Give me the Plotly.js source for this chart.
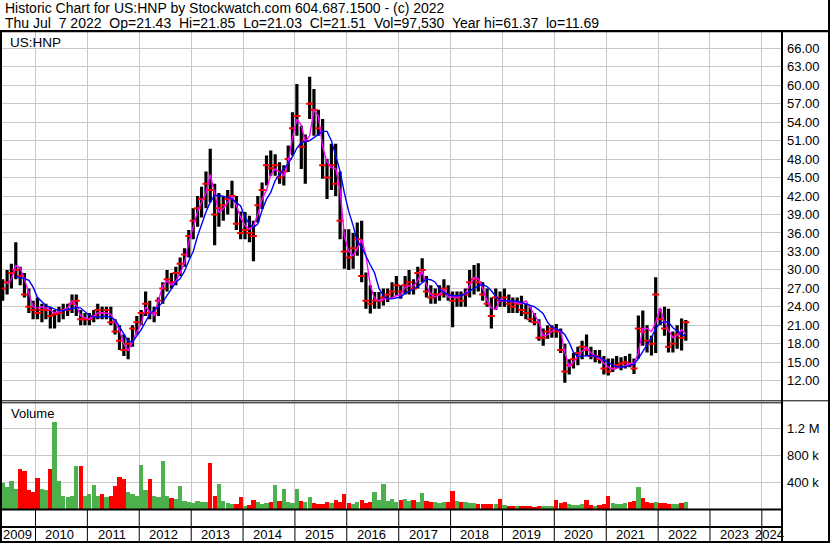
<!DOCTYPE html>
<html>
<head>
<meta charset="utf-8">
<script src="https://cdn.plot.ly/plotly-3.0.1.min.js"></script>
<style>
html,body{margin:0;padding:0;background:#fff;}
#chart{width:830px;height:543px;}
</style>
</head>
<body>
<div id="chart"></div>
<script>
// ---------------- DATA (monthly, May 2009 .. Jul 2022) ----------------
const startYear = 2009;
const startMonth = 5;

const high = [
  28.5, 30, 31, 34.5, 30.5, 29.5, 27, 25,
  25.5, 24.5, 24.5, 24, 23.5, 24, 24.5, 24.5, 26, 26, 23.5, 23,
  23, 23.5, 24.5, 24, 24, 24, 22, 21, 19.5, 19, 21, 22.5,
  23.5, 26.5, 25, 24, 25.5, 28, 30, 29.5, 30.5, 32, 33.5, 36.5,
  40, 42, 43.5, 46, 49.7, 44, 42.5, 42, 43, 44.5, 42, 39.5,
  39.4, 38.8, 38, 42, 44.2, 48.6, 49.4, 48.8, 47.5, 47, 50.2, 55.6,
  60.2, 53.4, 52, 61.37, 59.4, 56, 54.5, 48, 50.5, 50.5, 46, 36.6,
  36.6, 36, 37.7, 38, 29.6, 27.5, 26.4, 26.4, 27, 27, 28, 29,
  27.5, 29, 30, 28.5, 30.5, 31.9, 29, 27.5, 27, 27.5, 28.5, 27.5,
  26.5, 26.5, 26.5, 27, 30, 30.8, 31.1, 28, 27, 25.5, 27, 26.5,
  27, 26, 25.5, 25.5, 25.8, 24.5, 24, 23, 22, 20.5, 21, 21,
  21.2, 20.5, 18, 15.5, 16.5, 17.5, 18.5, 19.5, 17.5, 17, 17, 16,
  15.6, 15.6, 16, 15.8, 16, 16.4, 15.6, 22.6, 23.4, 21, 19.3, 28.8,
  23.7, 24, 23.7, 20, 21, 22.1, 21.85
];

const low = [
  25, 26, 27, 28.5, 27.5, 25.5, 23, 22,
  22, 21.5, 22, 20.5, 20.5, 21.5, 22, 22.5, 23, 22.5, 21, 21,
  21, 21.5, 22, 22, 22, 21, 19.5, 17, 16, 15.5, 17.5, 19.5,
  21, 22.5, 22, 21.5, 22.5, 24.5, 26.5, 27, 27.5, 29, 30.5, 32,
  35, 37, 38.5, 40, 41, 34, 37, 38, 39, 40, 36.5, 35,
  35, 34.5, 31.4, 37.7, 39.9, 43.7, 45.3, 45.3, 44, 43.7, 45.9, 48.6,
  51.8, 46.4, 44, 54.5, 51.8, 51.8, 44.8, 41.5, 43, 42, 35, 30.2,
  30, 30.2, 32.3, 28, 23.7, 22.9, 23.7, 23.7, 24.2, 24.8, 25.3, 25.8,
  25.3, 26, 26, 26, 27, 28, 25.5, 24.5, 24.5, 25, 25.5, 25,
  20.7, 24, 24, 24, 25.5, 26, 26.5, 25, 24, 20.5, 23.5, 24,
  24, 23, 23, 23, 22.5, 22, 21.5, 21, 18.5, 17.7, 18.8, 19,
  19, 16.5, 11.69, 13, 14, 14.5, 15.5, 16, 15.5, 15, 14.8, 13,
  12.85, 13.4, 14, 13.7, 14, 14.2, 13.1, 15.6, 17.7, 16.6, 16.1, 16.5,
  21, 19.3, 16.6, 16.6, 17.2, 16.9, 18.5
];

const close = [
  27, 28, 29.5, 30, 29, 26, 24, 23.5,
  23, 23.5, 23.5, 22.5, 22.8, 23, 23.5, 23.5, 24.5, 25, 22, 22,
  22, 22.5, 23.5, 23, 23.5, 21.5, 20, 18.5, 17, 18, 20.5, 21.5,
  23, 24.5, 23, 23, 25, 27, 28.5, 28, 29.5, 31, 32.5, 35.5,
  38, 40, 41.5, 44, 43, 39, 40, 40.5, 41.5, 42, 37.5, 36,
  36.5, 36, 35.5, 40.5, 43, 47, 46.5, 47, 45, 46, 48, 53,
  55, 50, 51, 57, 56, 53, 47, 45, 47, 44, 38, 33,
  32, 33.5, 35, 29, 25, 24.5, 25, 25, 25.5, 26, 26.5, 27.5,
  26.5, 27.5, 28, 27, 29.5, 30, 26.5, 25.5, 26, 26, 27, 26,
  25, 25.5, 25, 26, 28, 28.5, 28, 26, 24.5, 22.5, 25.5, 25,
  25.5, 24.5, 24, 24.5, 23.5, 23, 22, 21.5, 19, 19, 20, 20.5,
  20, 17, 13.5, 14.5, 15.5, 16.5, 17.5, 17, 16, 16, 15.5, 14,
  13.5, 14, 14.5, 14.8, 15, 14.5, 14, 20.5, 20, 18.5, 18, 26,
  22, 20.5, 17.5, 18, 19.5, 19, 21.51
];

// short moving average (magenta)
const maShort = [
  null, 27.7, 28.5, 30.7, 30.3, 28.5, 26, 24,
  23.8, 24, 23.8, 23.5, 23, 23.2, 23.5, 23.8, 25, 24.2, 22.5, 22.2,
  22, 22.5, 23, 23, 23, 22.8, 21.5, 20.2, 18, 16.9, 18.3, 20,
  21.2, 24, 23.2, 22.6, 25, 27.5, 28.2, 27.5, 28.2, 29.5, 31.2, 34.5,
  37, 39.5, 41, 42.5, 45.5, 42.6, 39.3, 40, 41, 42, 40.5, 38.5,
  37.2, 36.6, 37.2, 39, 41.5, 43, 45.5, 46.4, 45.9, 45.3, 47.5, 51.5,
  54.5, 53.5, 50.8, 51.8, 56, 55, 50, 47.5, 46.6, 46.5, 43, 35.5,
  33, 32.3, 33.5, 35, 32.3, 27.5, 25.3, 25, 25.2, 25.3, 25.5, 25.8,
  26, 27.2, 27.4, 27.4, 28.3, 29.8, 27.5, 26, 25.6, 26, 26.8, 25.6,
  25.6, 25.6, 25.8, 26.2, 27.5, 28.8, 28.6, 27, 25, 23.8, 23.6, 25.2,
  25, 25, 24.8, 24.7, 24.5, 25, 23.8, 22.8, 21.5, 19.3, 19.5, 20,
  20.4, 20, 16.6, 14.2, 15, 16, 16.8, 17.4, 16.5, 16, 15.6, 14.8,
  14.2, 13.9, 14, 14.2, 14.5, 14.8, 14.8, 16.5, 20.5, 20.5, 20, 21.5,
  23.8, 21.5, 20.2, 19, 19.3, 20.3, 19.6
];

// long moving average (blue)
const maLong = [
  null, null, null, 28.9, 28.8, 28.6, 28.3, 27.2,
  25.5, 24.8, 24.2, 23.9, 23.6, 23.4, 23.4, 23.6, 23.8, 23.9, 23.8, 23.2,
  22.6, 22.4, 22.3, 22.4, 22.5, 22.3, 21.9, 20.8, 19.6, 18.4, 18.3, 19.2,
  20.3, 21.6, 22.8, 23.5, 24, 24.8, 25.8, 27, 28, 28.6, 29.8, 31.5,
  33, 35.5, 37.5, 39.4, 41, 42.1, 42.1, 42, 41.8, 41.5, 41, 40.4,
  38.5, 37.5, 36.9, 37.5, 39.7, 41.5, 42.6, 44.5, 45.5, 46.4, 47.3, 48.4,
  49.8, 50.7, 50.9, 51, 51.5, 52, 52.5, 52.5, 51, 48.6, 46, 42.5,
  39.5, 37.2, 34.6, 33.7, 32.2, 30.8, 29.5, 27, 25.8, 25.3, 25.3, 25.5,
  25.6, 26.2, 26.5, 26.9, 27.3, 27.9, 28.5, 28.4, 28, 26.9, 26.3, 26,
  25.8, 25.8, 25.8, 26.1, 26.6, 27, 27.4, 27.6, 27.3, 26.6, 25.7, 25,
  25, 25, 25, 24.9, 24.7, 24.5, 24.2, 24, 23.5, 22.9, 21.5, 20.7,
  20.4, 20.1, 19.5, 18.2, 16.6, 15.9, 16, 16.1, 16.1, 16, 15.8, 15.4,
  15, 14.5, 14.3, 14.2, 14.3, 14.5, 14.7, 15.6, 16.8, 18, 19, 20.5,
  21.3, 21.6, 21.5, 20.6, 20, 19.5, 19.3
];

// volume (thousands of shares)
const volumeK = [
  380, 330, 420, 300, 600, 560, 280, 250,
  460, 300, 280, 600, 1290, 420, 200, 180, 200, 640, 640, 200,
  220, 360, 200, 230, 180, 200, 340, 470, 450, 260, 230, 200,
  650, 280, 440, 200, 180, 716, 200, 160, 150, 345, 120, 110,
  90, 120, 100, 110, 690, 200, 375, 120, 90, 80, 70, 180,
  50, 60, 140, 100, 80, 90, 110, 360, 120, 290, 100, 90,
  300, 120, 100, 180, 90, 70, 80, 100, 90, 130, 110, 230,
  90, 80, 110, 140, 90, 110, 250, 130, 365, 120, 150, 110,
  140, 150, 120, 130, 110, 240, 120, 110, 100, 90, 110, 100,
  270, 120, 110, 100, 90, 90, 80, 70, 80, 70, 80, 150,
  60, 50, 50, 40, 45, 40, 40, 35, 40, 40, 50, 45,
  140, 90, 100, 80, 60, 60, 70, 130, 60, 50, 60, 70,
  190, 90, 80, 70, 90, 100, 120, 325, 160, 110, 90, 100,
  90, 90, 80, 80, 70, 90, 100
];

const priceTicks = [12, 15, 18, 21, 24, 27, 30, 33, 36, 39, 42, 45, 48, 51, 54, 57, 60, 63, 66];
const volTicks = [400, 800, 1200];
const volTickText = ['400 k', '800 k', '1.2 M'];
const yearLabels = [2009, 2010, 2011, 2012, 2013, 2014, 2015, 2016, 2017, 2018, 2019, 2020, 2021, 2022, 2023, 2024];

const header1 = 'Historic Chart for US:HNP by Stockwatch.com 604.687.1500 - (c) 2022';
const header2 = 'Thu Jul\u00a0 7 2022\u00a0 Op=21.43\u00a0 Hi=21.85\u00a0 Lo=21.03\u00a0 Cl=21.51\u00a0 Vol=97,530\u00a0 Year hi=61.37\u00a0 lo=11.69';
const symbolLabel = 'US:HNP';
const volumeLabel = 'Volume';

// ---------------- BUILD ----------------
const months = high.map((_, i) => {
  const m0 = startMonth - 1 + i;
  const y = startYear + Math.floor(m0 / 12);
  const m = (m0 % 12) + 1;
  return y + '-' + String(m).padStart(2, '0') + '-15';
});

const xRange = ['2009-05-10', '2024-05-15'];

const W = 830, H = 543, ML = 2, MR = 49, MT = 32, MB = 34;
const PW = W - ML - MR, PH = H - MT - MB;
const px = x => (x - ML) / PW;
const py = y => (H - MB - y) / PH;

const FONT = 'Liberation Sans, Arimo, Arial, sans-serif';

// price bars as vertical low-high segments
const barX = [], barY = [];
months.forEach((d, i) => { barX.push(d, d, null); barY.push(low[i], high[i], null); });

const volColors = close.map((c, i) => (i === 0 || c >= close[i - 1]) ? '#4cb04c' : '#ff0000');

const traces = [
  { type: 'scatter', mode: 'lines', x: barX, y: barY, xaxis: 'x', yaxis: 'y',
    line: { color: '#000000', width: 3.2 }, hoverinfo: 'skip', showlegend: false },
  { type: 'scatter', mode: 'markers', x: months, y: close, xaxis: 'x', yaxis: 'y',
    marker: { symbol: 'line-ew', size: 5, color: '#ff0000', line: { color: '#ff0000', width: 2 } },
    hoverinfo: 'skip', showlegend: false },
  { type: 'scatter', mode: 'lines', x: months, y: maShort, xaxis: 'x', yaxis: 'y',
    line: { color: '#ff00ff', width: 1.4 }, hoverinfo: 'skip', showlegend: false },
  { type: 'scatter', mode: 'lines', x: months, y: maLong, xaxis: 'x', yaxis: 'y',
    line: { color: '#0000ff', width: 1.4 }, hoverinfo: 'skip', showlegend: false },
  { type: 'bar', x: months, y: volumeK, xaxis: 'x2', yaxis: 'y2',
    width: 30 * 86400000, marker: { color: volColors, line: { width: 0 } },
    hoverinfo: 'skip', showlegend: false }
];

// year labels centred on the visible part of each year
const t0 = new Date(xRange[0] + 'T00:00:00Z').getTime();
const t1 = new Date(xRange[1] + 'T00:00:00Z').getTime();
const annotations = yearLabels.map(yr => {
  const a = Math.max(Date.UTC(yr, 0, 1), t0);
  const b = Math.min(Date.UTC(yr + 1, 0, 1), t1);
  const mid = new Date((a + b) / 2).toISOString().slice(0, 10);
  return { xref: 'x2', yref: 'paper', x: mid, y: py(534.5), text: String(yr), showarrow: false,
    xanchor: 'center', yanchor: 'middle', xshift: -1.5, font: { family: FONT, size: 13, color: '#000' } };
});
annotations.push(
  { xref: 'paper', yref: 'paper', x: px(3), y: py(8), text: header1, showarrow: false,
    xanchor: 'left', yanchor: 'middle', font: { family: FONT, size: 14, color: '#000' } },
  { xref: 'paper', yref: 'paper', x: px(3), y: py(22.5), text: header2, showarrow: false,
    xanchor: 'left', yanchor: 'middle', font: { family: FONT, size: 14, color: '#000' } },
  { xref: 'paper', yref: 'paper', x: px(8), y: py(42.5), text: symbolLabel, showarrow: false,
    xanchor: 'left', yanchor: 'middle', font: { family: FONT, size: 13.5, color: '#000' } },
  { xref: 'paper', yref: 'paper', x: px(9), y: py(413), text: volumeLabel, showarrow: false,
    xanchor: 'left', yanchor: 'middle', font: { family: FONT, size: 13, color: '#000' } }
);

// frame lines
const hline = (y, x0, x1, w) => ({ type: 'line', xref: 'paper', yref: 'paper',
  x0: px(x0), x1: px(x1), y0: py(y), y1: py(y), line: { color: '#000', width: w } });
const vline = (x, y0, y1, w) => ({ type: 'line', xref: 'paper', yref: 'paper',
  x0: px(x), x1: px(x), y0: py(y0), y1: py(y1), line: { color: '#000', width: w } });

const shapes = [
  hline(31.2, 0, 830, 2.3),
  hline(400.8, 0, 830, 1),
  hline(402.8, 0, 782, 1),
  hline(509.6, 0, 782, 2),
  hline(527, 0, 782, 2),
  hline(542, 0, 830, 2),
  vline(1, 30, 543, 2),
  vline(782, 30, 543, 2),
  vline(829, 0, 543, 2)
];
yearLabels.slice(1).forEach(yr => {
  shapes.push({ type: 'line', xref: 'x2', yref: 'paper',
    x0: yr + '-01-01', x1: yr + '-01-01', y0: py(510), y1: py(541), line: { color: '#000', width: 1 } });
});

const gridColor = '#c8c8c8';
const xCommon = { type: 'date', range: xRange, showgrid: true, gridcolor: gridColor, gridwidth: 1,
  tick0: '2010-01-01', dtick: 'M12', showticklabels: false, ticks: '', zeroline: false, showline: false, fixedrange: true };

const layout = {
  width: W, height: H,
  margin: { l: ML, r: MR, t: MT, b: MB, pad: 0 },
  paper_bgcolor: '#ffffff', plot_bgcolor: '#ffffff',
  showlegend: false, hovermode: false,
  bargap: 0,
  xaxis: Object.assign({}, xCommon, { anchor: 'y', domain: [0, 1] }),
  xaxis2: Object.assign({}, xCommon, { anchor: 'y2', domain: [0, 1], matches: 'x' }),
  yaxis: { domain: [py(400.5), 1], range: [8.787, 68.648], side: 'right', anchor: 'x',
    tickmode: 'array', tickvals: priceTicks, tickformat: '.2f', ticks: '', ticklabelstandoff: 5,
    showgrid: true, gridcolor: gridColor, gridwidth: 1, zeroline: false, showline: false,
    tickfont: { family: FONT, size: 13, color: '#000' }, fixedrange: true },
  yaxis2: { domain: [0, py(403)], range: [0, 1576], side: 'right', anchor: 'x2',
    tickmode: 'array', tickvals: volTicks, ticktext: volTickText, ticks: '', ticklabelstandoff: 5,
    showgrid: true, gridcolor: gridColor, gridwidth: 1, zeroline: false, showline: false,
    tickfont: { family: FONT, size: 13, color: '#000' }, fixedrange: true },
  annotations: annotations,
  shapes: shapes
};

Plotly.newPlot('chart', traces, layout, { displayModeBar: false, staticPlot: true });
</script>
</body>
</html>
